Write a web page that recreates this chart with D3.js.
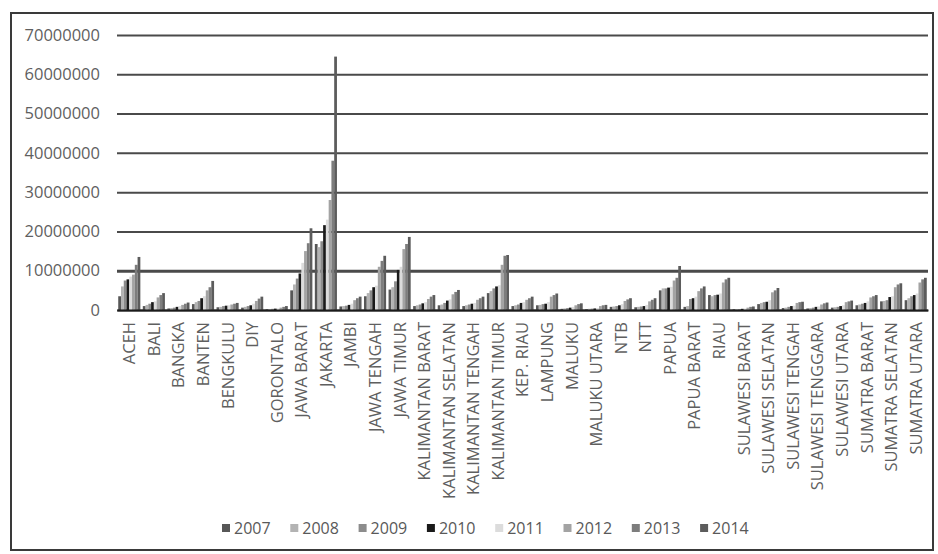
<!DOCTYPE html>
<html>
<head>
<meta charset="utf-8">
<script src="https://cdn.jsdelivr.net/npm/d3@7"></script>
<style>
  body { margin: 0; background: #fff; }
  text { font-family: "Open Sans", sans-serif; fill: #595959; }
</style>
</head>
<body>
<svg id="chart" width="938" height="554"></svg>
<script>
// provinces (categories)
var provinces = ["ACEH", "BALI", "BANGKA", "BANTEN", "BENGKULU", "DIY", "GORONTALO",
  "JAWA BARAT", "JAKARTA", "JAMBI", "JAWA TENGAH", "JAWA TIMUR", "KALIMANTAN BARAT",
  "KALIMANTAN SELATAN", "KALIMANTAN TENGAH", "KALIMANTAN TIMUR", "KEP. RIAU", "LAMPUNG",
  "MALUKU", "MALUKU UTARA", "NTB", "NTT", "PAPUA", "PAPUA BARAT", "RIAU", "SULAWESI BARAT",
  "SULAWESI SELATAN", "SULAWESI TENGAH", "SULAWESI TENGGARA", "SULAWESI UTARA",
  "SUMATRA BARAT", "SUMATRA SELATAN", "SUMATRA UTARA"];

var years = ["2007", "2008", "2009", "2010", "2011", "2012", "2013", "2014"];

// values in millions, one array per year, in province order
var v2007 = [3.5, 1.0, 0.4, 1.5, 0.7, 0.6, 0.2, 5.0, 16.8, 0.9, 3.5, 5.2, 1.0, 1.2, 1.0, 4.3, 1.0, 1.2, 0.3, 0.2, 0.8, 0.7, 5.0, 0.8, 3.8, 0.2, 1.5, 0.5, 0.4, 0.6, 1.2, 2.2, 2.5];
var v2008 = [6.0, 1.3, 0.5, 2.0, 0.8, 0.8, 0.25, 6.5, 16.0, 1.0, 4.3, 5.8, 1.2, 1.4, 1.2, 4.8, 1.2, 1.3, 0.4, 0.3, 0.9, 0.8, 5.5, 1.0, 3.5, 0.2, 1.8, 0.6, 0.5, 0.7, 1.4, 2.3, 3.0];
var v2009 = [7.5, 1.6, 0.6, 2.3, 1.0, 1.0, 0.3, 8.0, 17.5, 1.1, 5.0, 7.3, 1.4, 1.8, 1.4, 5.5, 1.4, 1.5, 0.5, 0.35, 1.0, 0.9, 5.5, 2.8, 3.8, 0.25, 2.0, 0.8, 0.6, 0.8, 1.6, 2.5, 3.5];
var v2010 = [7.8, 2.0, 0.8, 3.0, 1.1, 1.2, 0.35, 9.3, 21.6, 1.3, 5.8, 10.2, 1.7, 2.4, 1.6, 6.0, 1.8, 1.6, 0.6, 0.4, 1.2, 1.0, 5.7, 3.0, 3.9, 0.3, 2.1, 1.0, 0.8, 1.0, 1.8, 3.3, 3.8];
var v2011 = [8.5, 2.2, 1.0, 3.5, 1.2, 1.6, 0.4, 12.0, 23.0, 1.6, 6.2, 11.0, 2.0, 2.7, 1.8, 6.3, 2.0, 2.0, 0.8, 0.5, 1.5, 1.3, 5.9, 3.4, 4.2, 0.35, 2.5, 1.1, 0.9, 1.2, 2.2, 3.5, 4.2];
var v2012 = [9.0, 3.2, 1.3, 5.0, 1.4, 2.3, 0.6, 15.0, 28.0, 2.5, 11.0, 15.5, 2.8, 4.0, 2.6, 11.5, 2.6, 3.4, 1.2, 1.0, 2.3, 2.2, 7.5, 4.8, 7.0, 0.6, 4.5, 1.8, 1.4, 2.0, 3.2, 5.8, 7.0];
var v2013 = [11.5, 3.8, 1.6, 5.8, 1.6, 2.9, 0.8, 17.0, 38.0, 3.0, 12.5, 16.8, 3.4, 4.6, 3.0, 13.8, 3.0, 3.8, 1.5, 1.2, 2.7, 2.6, 8.2, 5.5, 7.8, 0.8, 5.0, 2.0, 1.7, 2.2, 3.5, 6.5, 7.8];
var v2014 = [13.5, 4.3, 1.9, 7.4, 1.8, 3.4, 1.0, 20.8, 64.5, 3.4, 13.8, 18.6, 3.8, 5.1, 3.4, 14.0, 3.4, 4.2, 1.7, 1.3, 3.0, 3.0, 11.2, 6.0, 8.2, 0.9, 5.6, 2.1, 1.9, 2.4, 3.8, 6.8, 8.2];

var yTicks = [0, 10000000, 20000000, 30000000, 40000000, 50000000, 60000000, 70000000];

var colors = ["#575757", "#b3b3b3", "#8c8c8c", "#1a1a1a", "#dcdcdc", "#a3a3a3", "#7d7d7d", "#5c5c5c"];

var series = [v2007, v2008, v2009, v2010, v2011, v2012, v2013, v2014];
var UNIT = 1000000;

var svg = d3.select("#chart");
var margin = { top: 35, right: 10, bottom: 244, left: 117 };
var width = 928 - margin.left,
  height = 310 - margin.top;

// outer frame
svg.append("rect")
  .attr("x", 11).attr("y", 13)
  .attr("width", 922).attr("height", 537)
  .attr("fill", "none")
  .attr("stroke", "#3a3a3a")
  .attr("stroke-width", 2);

var g = svg.append("g")
  .attr("transform", "translate(" + margin.left + "," + margin.top + ")");

var x0 = d3.scaleBand().domain(provinces).range([0, width]).padding(0);
var x1 = d3.scaleBand().domain(years)
  .range([x0.bandwidth() * 0.05, x0.bandwidth() * 0.95]);
var y = d3.scaleLinear().domain([0, 70000000]).range([height, 0]);
var color = d3.scaleOrdinal().domain(years).range(colors);

// gridlines
var grid = g.append("g")
  .call(d3.axisLeft(y).tickValues(yTicks).tickSize(-width).tickFormat(""));
grid.select(".domain").remove();
grid.selectAll("line")
  .attr("stroke", "#4a4a4a")
  .attr("stroke-width", function (d) { return d == 10000000 ? 3 : 2; });

// y tick labels
var yAxis = g.append("g")
  .call(d3.axisLeft(y).tickValues(yTicks).tickSize(0).tickPadding(17)
    .tickFormat(d3.format("d")));
yAxis.select(".domain").remove();
yAxis.selectAll("text")
  .style("font-size", "16.5px")
  .style("fill", "#5f5f5f")
  .style("font-family", "'Open Sans', sans-serif");

// bars
var rows = provinces.map(function (p, i) {
  return { name: p, values: years.map(function (yr, j) {
    return { year: yr, value: series[j][i] * UNIT };
  }) };
});

var groups = g.selectAll(".grp")
  .data(rows)
  .enter()
  .append("g")
  .attr("class", "grp")
  .attr("transform", function (d) { return "translate(" + x0(d.name) + ",0)"; });

groups.selectAll("rect")
  .data(function (d) { return d.values; })
  .enter()
  .append("rect")
  .attr("x", function (d) { return x1(d.year); })
  .attr("y", function (d) { return y(d.value); })
  .attr("width", x1.bandwidth())
  .attr("height", function (d) { return height - y(d.value); })
  .attr("fill", function (d) { return color(d.year); });

// x axis
var xAxis = g.append("g")
  .attr("transform", "translate(0," + height + ")")
  .call(d3.axisBottom(x0).tickSize(0).tickPadding(0));
xAxis.select(".domain")
  .attr("stroke", "#1a1a1a")
  .attr("stroke-width", 2);
xAxis.selectAll("text")
  .attr("transform", "rotate(-90)")
  .attr("x", -12)
  .attr("y", 0)
  .attr("dy", "0.36em")
  .style("text-anchor", "end")
  .style("font-size", "16.5px")
  .style("fill", "#5f5f5f")
  .style("font-family", "'Open Sans', sans-serif");

// legend
var legend = svg.append("g").attr("transform", "translate(222,528)");
var item = legend.selectAll("g")
  .data(years)
  .enter()
  .append("g")
  .attr("transform", function (d, i) { return "translate(" + i * 68.3 + ",0)"; });
item.append("rect")
  .attr("x", 0).attr("y", -4)
  .attr("width", 8).attr("height", 8)
  .attr("fill", function (d) { return color(d); });
item.append("text")
  .attr("x", 12)
  .attr("y", 0)
  .attr("dy", "0.35em")
  .style("font-size", "16px")
  .text(function (d) { return d; });
</script>
</body>
</html>
